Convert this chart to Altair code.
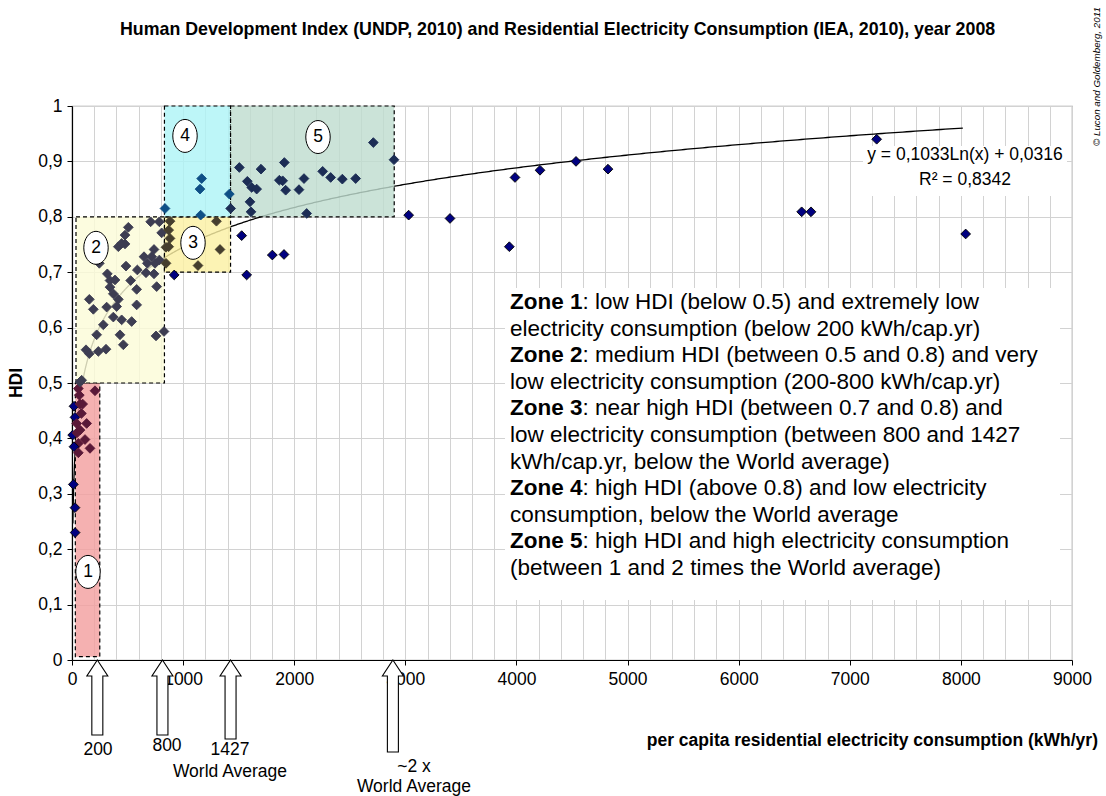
import altair as alt
import pandas as pd

# ---------------- data ----------------
ELEC = [57, 207, 66, 18, 72, 96, 27, 42, 132, 6, 72, 117, 57, 18, 162, 57, 12, 27, 28, 72, 45, 85,
        87, 126, 156, 237, 306, 156, 192, 222, 246, 282, 312, 318, 342, 372, 342, 372, 402, 417, 387,
        432, 447, 417, 477, 477, 507, 462, 486, 528, 537, 582, 582, 588, 666, 648, 678, 717, 738, 747,
        708, 786, 738, 762, 756, 786, 807, 828, 447, 846, 846,
        882, 870, 1300, 1332, 1134, 870, 882,
        837, 1167, 1152, 1158, 1416, 1428,
        1506, 1701, 1911, 1578, 1617, 1662, 1602, 1611, 1866, 1896, 1923, 2088, 2043, 2112, 2256,
        2328, 2433, 2553, 2712, 2898,
        1527, 1803, 1908, 1572, 920, 3030, 3402, 3936, 3987, 4212, 4536, 4824, 6567, 6651, 7242, 8043]
HDI = [0.490, 0.486, 0.478, 0.458, 0.462, 0.462, 0.438, 0.427, 0.427, 0.406, 0.415, 0.398, 0.391,
       0.385, 0.382, 0.374, 0.317, 0.275, 0.230, 0.502, 0.410, 0.445,
       0.505, 0.560, 0.553, 0.557, 0.561, 0.651, 0.633, 0.587, 0.716, 0.605, 0.637, 0.697, 0.685,
       0.619, 0.673, 0.661, 0.638, 0.651, 0.686, 0.587, 0.614, 0.746, 0.751, 0.767, 0.781, 0.569,
       0.711, 0.685, 0.611, 0.669, 0.641, 0.704, 0.699, 0.728, 0.716, 0.728, 0.741, 0.716, 0.791,
       0.791, 0.697, 0.674, 0.585, 0.722, 0.771, 0.593, 0.752, 0.745, 0.716,
       0.792, 0.776, 0.792, 0.741, 0.712, 0.746, 0.761,
       0.815, 0.869, 0.850, 0.803, 0.841, 0.815,
       0.889, 0.886, 0.898, 0.864, 0.853, 0.850, 0.827, 0.809, 0.866, 0.865, 0.848, 0.869, 0.849,
       0.806, 0.882, 0.871, 0.868, 0.869, 0.934, 0.903,
       0.766, 0.731, 0.732, 0.695, 0.695, 0.803, 0.797, 0.746, 0.871, 0.884, 0.900, 0.886, 0.809,
       0.809, 0.940, 0.769]

# logarithmic trend line shown on the chart: y = a*ln(x) + b
TREND_A = 0.1033
TREND_B = 0.0316
TREND_RANGE = [8, 8050]

ZONE_ID = ["1", "2", "3", "4", "5"]
ZONE_X0 = [30, 36, 832, 832, 1427]
ZONE_X1 = [250, 832, 1427, 1427, 2900]
ZONE_Y0 = [0.006, 0.5, 0.7, 0.8, 0.8]
ZONE_Y1 = [0.5, 0.8, 0.8, 1.0, 1.0]
ZONE_LABEL_X = [144, 216, 1089, 1017, 2214]
ZONE_LABEL_Y = [0.159, 0.744, 0.753, 0.946, 0.944]

ARROW_X = [228, 814, 1427, 2888]

X_TICKS = list(range(0, 9001, 200))
Y_TICKS = [i / 10 for i in range(11)]

TITLE = "Human Development Index (UNDP, 2010) and Residential Electricity Consumption (IEA, 2010), year 2008"
X_TITLE = "per capita residential electricity consumption (kWh/yr)"
Y_TITLE = "HDI"
COPYRIGHT = "\u00a9 Lucon and Goldemberg, 2011"
EQ_LINES = ["y = 0,1033Ln(x) + 0,0316", "R\u00b2 = 0,8342"]
ARROW_TEXT = ["200", "800", "1427", "World Average", "~2 x", "World Average"]
ZONE_TEXT = [
    ("Zone 1", ": low HDI (below 0.5) and extremely low"),
    ("", "electricity consumption (below 200 kWh/cap.yr)"),
    ("Zone 2", ": medium HDI (between 0.5 and 0.8) and very"),
    ("", "low electricity consumption (200-800 kWh/cap.yr)"),
    ("Zone 3", ": near high HDI (between 0.7 and 0.8) and"),
    ("", "low electricity consumption (between 800 and 1427"),
    ("", "kWh/cap.yr, below the World average)"),
    ("Zone 4", ": high HDI (above 0.8) and low electricity"),
    ("", "consumption, below the World average"),
    ("Zone 5", ": high HDI and high electricity consumption"),
    ("", "(between 1 and 2 times the World average)"),
]

# ---------------- layout / style ----------------
FONT = "Liberation Sans"
LEFT, TOP, W, H = 72, 106, 1000, 554
XMAX = 9000


def dx(px):  # page pixel -> data x
    return (px - LEFT) / W * XMAX


def dy(py):  # page pixel -> data y
    return (TOP + H - py) / H


ZONE_FILL = ["#f3a0a0", "#fbfbd8", "#fbf0a4", "#aef4f7", "#c0ddd0"]
ZONE_PT = ["#5a1838", "#3d3d52", "#453e2e", "#0e4f86", "#1c2d55"]

xs = alt.Scale(domain=[0, XMAX], nice=False, zero=False)
ys = alt.Scale(domain=[0, 1], nice=False, zero=False)

# points with zone tint
rows = []
for x, y in zip(ELEC, HDI):
    fill, stroke = "#000080", "#000000"
    for i in range(5):
        if ZONE_X0[i] <= x <= ZONE_X1[i] and ZONE_Y0[i] <= y <= ZONE_Y1[i]:
            fill, stroke = ZONE_PT[i], ZONE_PT[i]
            break
    rows.append({"x": x, "y": y, "fill": fill, "stroke": stroke})
pts = pd.DataFrame(rows)

zones = pd.DataFrame({"id": ZONE_ID, "x0": ZONE_X0, "x1": ZONE_X1, "y0": ZONE_Y0, "y1": ZONE_Y1,
                      "fill": ZONE_FILL, "lx": ZONE_LABEL_X, "ly": ZONE_LABEL_Y})

x_axis = alt.Axis(values=X_TICKS, format="d",
                  labelExpr="datum.value % 1000 === 0 ? datum.label : ''",
                  tickColor={"condition": {"test": "datum.value % 1000 === 0", "value": "black"},
                             "value": "transparent"},
                  title=None, labelFlush=False, labelOverlap=False, labelPadding=5)
y_axis = alt.Axis(values=Y_TICKS, labelExpr="replace(format(datum.value, '.1~f'), '.', ',')",
                  title=None, labelPadding=5, labelOverlap=False)

X = lambda f: alt.X(f, type="quantitative", scale=xs, axis=x_axis)
Y = lambda f: alt.Y(f, type="quantitative", scale=ys, axis=y_axis)

trend = alt.Chart(alt.sequence(2.0794, 8.9934, 0.005, as_="t")).transform_calculate(
    x="exp(datum.t)", y=f"{TREND_A}*log(exp(datum.t))+{TREND_B}"
).mark_line(color="black", strokeWidth=1.3).encode(x=X("x"), y=Y("y"))

zone_rect = alt.Chart(zones).mark_rect(fillOpacity=0.82, stroke="black", strokeWidth=1.2,
                                        strokeDash=[4, 3]).encode(
    x=X("x0"), x2="x1", y=Y("y0"), y2="y1", fill=alt.Fill("fill:N", scale=None))

points = alt.Chart(pts).mark_point(shape="diamond", filled=True, size=95, strokeWidth=0.9,
                                   opacity=1).encode(
    x=X("x"), y=Y("y"), fill=alt.Fill("fill:N", scale=None), stroke=alt.Stroke("stroke:N", scale=None))

boxes = pd.DataFrame({"x0": [dx(505), dx(863)], "x1": [dx(1060), dx(1067)],
                      "y0": [dy(288), dy(146)], "y1": [dy(600), dy(196)]})
white_boxes = alt.Chart(boxes).mark_rect(fill="white").encode(x=X("x0"), x2="x1", y=Y("y0"), y2="y1")


def text_layer(df, **kw):
    base = dict(font=FONT, fontSize=17.5, color="black", baseline="middle", align="center")
    base.update(kw)
    return alt.Chart(df).mark_text(**base).encode(x=X("x"), y=Y("y"), text="t:N")


eq = text_layer(pd.DataFrame({"x": [dx(965), dx(965)], "y": [dy(155), dy(180)], "t": EQ_LINES}))

ZFS = 22.5
bold_rows, reg_rows = [], []
for i, (b, r) in enumerate(ZONE_TEXT):
    py = 302 + 26.6 * i
    if b:
        bold_rows.append({"x": dx(510), "y": dy(py), "t": b})
        reg_rows.append({"x": dx(510 + 3.223 * ZFS), "y": dy(py), "t": r})
    else:
        reg_rows.append({"x": dx(510), "y": dy(py), "t": r})
zone_bold = text_layer(pd.DataFrame(bold_rows), fontSize=ZFS, fontWeight="bold", align="left")
zone_reg = text_layer(pd.DataFrame(reg_rows), fontSize=ZFS, align="left")

ELLIPSE = "M0,-1 A0.74,1 0 1,1 0,1 A0.74,1 0 1,1 0,-1 Z"
ell = alt.Chart(zones).mark_point(shape=ELLIPSE, size=33 * 33, filled=True, fill="white",
                                  stroke="black", strokeWidth=1, opacity=1).encode(x=X("lx"), y=Y("ly"))
ell_txt = alt.Chart(zones).mark_text(font=FONT, fontSize=17.5, color="black").encode(
    x=X("lx"), y=Y("ly"), text="id:N")


def arrow_path(h, head_h=16.0, head_w=21.0, shaft_w=11.0):
    r = h / 2.0
    p = [(0, -r), (head_w / 2, -r + head_h), (shaft_w / 2, -r + head_h), (shaft_w / 2, r),
         (-shaft_w / 2, r), (-shaft_w / 2, -r + head_h), (-head_w / 2, -r + head_h)]
    return "M" + " L".join(f"{a / r:.4f},{b / r:.4f}" for a, b in p) + " Z"


ARROW_LEN = [75, 75, 79, 92]
arrows = []
for ax, L in zip(ARROW_X, ARROW_LEN):
    arrows.append(alt.Chart(pd.DataFrame({"x": [ax], "y": [dy(TOP + H + L / 2)]})).mark_point(
        shape=arrow_path(L), size=L * L, filled=True, fill="white", stroke="black",
        strokeWidth=1.1, opacity=1).encode(x=X("x"), y=Y("y")))

arrow_lbl = text_layer(pd.DataFrame({
    "x": [dx(98), dx(167), dx(230), dx(230), dx(414), dx(414)],
    "y": [dy(750), dy(746), dy(750), dy(772), dy(767), dy(787)],
    "t": ARROW_TEXT}))

title = text_layer(pd.DataFrame({"x": [dx(120)], "y": [dy(30)], "t": [TITLE]}),
                   fontSize=17.8, fontWeight="bold", align="left")
xtitle = text_layer(pd.DataFrame({"x": [dx(1098)], "y": [dy(741)], "t": [X_TITLE]}),
                    fontWeight="bold", align="right")
ytitle = text_layer(pd.DataFrame({"x": [dx(17)], "y": [dy(383)], "t": [Y_TITLE]}),
                    fontWeight="bold", angle=270)
copy_t = text_layer(pd.DataFrame({"x": [dx(1097)], "y": [dy(146)], "t": [COPYRIGHT]}),
                    fontSize=9.8, fontStyle="italic", angle=270, align="left")

chart = alt.layer(trend, zone_rect, points, white_boxes, eq, zone_bold, zone_reg, ell, ell_txt,
                  *arrows, arrow_lbl, title, xtitle, ytitle, copy_t).properties(
    width=W, height=H, autosize=alt.AutoSizeParams(type="none"),
    padding={"left": LEFT, "top": TOP, "right": 1106 - LEFT - W, "bottom": 796 - TOP - H},
    background="white"
).configure_view(stroke="#a0a0a0", strokeWidth=1.2).configure_axis(
    labelFont=FONT, labelFontSize=17.5, labelColor="black", gridColor="#d2d2d2", gridWidth=1,
    domainColor="black", domainWidth=1.2, tickColor="black", tickSize=5, tickWidth=1
)

chart.save("out.html", embed_options={"renderer": "svg", "actions": False})
